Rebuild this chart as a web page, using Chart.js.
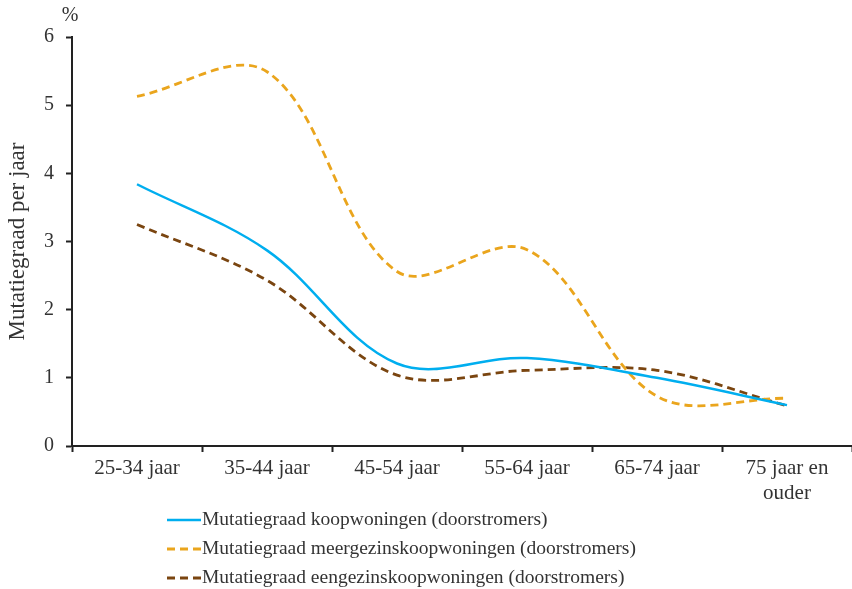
<!DOCTYPE html>
<html>
<head>
<meta charset="utf-8">
<script src="https://cdn.jsdelivr.net/npm/chart.js@4/dist/chart.umd.min.js"></script>
<style>
  html, body { margin: 0; padding: 0; background: #fff; }
  #wrap { width: 852px; height: 589px; position: relative; }
</style>
</head>
<body>
<div id="wrap"><canvas id="linechart"></canvas></div>
<script>
const categories = ['25-34 jaar', '35-44 jaar', '45-54 jaar', '55-64 jaar', '65-74 jaar', ['75 jaar en', 'ouder']];
const koopwoningen = [3.84, 2.87, 1.21, 1.29, 1.0, 0.60];
const meergezins = [5.13, 5.49, 2.56, 2.88, 0.73, 0.70];
const eengezins = [3.25, 2.43, 1.04, 1.11, 1.11, 0.59];
const yTicks = [0, 1, 2, 3, 4, 5, 6];

const seriesNames = [
  'Mutatiegraad koopwoningen (doorstromers)',
  'Mutatiegraad meergezinskoopwoningen (doorstromers)',
  'Mutatiegraad eengezinskoopwoningen (doorstromers)'
];

const FONT = 'Liberation Serif';
const TEXT = '#333333';

// legend + "%" label drawn by hand so rows line up left like the original
const extras = {
  id: 'extras',
  afterDraw(chart) {
    const c = chart.ctx;
    c.save();
    c.font = '20px "' + FONT + '"';
    c.fillStyle = TEXT;
    c.textBaseline = 'middle';
    c.textAlign = 'center';
    c.fillText('%', 70, 16);
    c.font = '19.5px "' + FONT + '"';
    c.textAlign = 'left';
    const rows = [520, 549, 578];
    chart.data.datasets.forEach(function (ds, i) {
      const y = rows[i];
      c.beginPath();
      c.strokeStyle = ds.borderColor;
      c.lineWidth = ds.borderWidth;
      c.setLineDash(ds.borderDash || []);
      c.moveTo(167, y);
      c.lineTo(201, y);
      c.stroke();
      c.setLineDash([]);
      c.fillText(ds.label, 202, y);
    });
    c.restore();
  }
};

const ctx = document.getElementById('linechart');
new Chart(ctx, {
  type: 'line',
  data: {
    labels: categories,
    datasets: [{
      label: seriesNames[0],
      data: koopwoningen,
      borderColor: '#00AEEF',
      borderWidth: 2.5,
      pointRadius: 0,
      tension: 0.35
    }, {
      label: seriesNames[1],
      data: meergezins,
      borderColor: '#EAA51D',
      borderWidth: 2.8,
      borderDash: [8, 5],
      pointRadius: 0,
      tension: 0.35
    }, {
      label: seriesNames[2],
      data: eengezins,
      borderColor: '#7A4510',
      borderWidth: 2.8,
      borderDash: [8, 5],
      pointRadius: 0,
      tension: 0.35
    }]
  },
  options: {
    responsive: true,
    maintainAspectRatio: false,
    animation: false,
    layout: { padding: { top: 37, right: 0, left: 0, bottom: 0 } },
    plugins: {
      legend: { display: false },
      tooltip: { enabled: false }
    },
    scales: {
      x: {
        offset: true,
        afterFit: function (s) { s.height = 143; },
        border: { color: '#222', width: 2 },
        grid: {
          offset: true,
          drawOnChartArea: false,
          tickLength: 6,
          tickColor: '#222',
          tickWidth: 2
        },
        ticks: {
          color: TEXT,
          font: { family: FONT, size: 21 },
          padding: 4,
          maxRotation: 0,
          autoSkip: false
        }
      },
      y: {
        min: 0,
        max: 6,
        afterFit: function (s) { s.width = 72; },
        afterBuildTicks: function (s) { s.ticks = yTicks.map(function (v) { return { value: v }; }); },
        border: { color: '#222', width: 2 },
        grid: {
          drawOnChartArea: false,
          tickLength: 6,
          tickColor: '#222',
          tickWidth: 2
        },
        ticks: {
          color: TEXT,
          font: { family: FONT, size: 20 },
          padding: 12
        },
        title: {
          display: true,
          text: 'Mutatiegraad per jaar',
          color: TEXT,
          font: { family: FONT, size: 23 },
          padding: { top: 4, bottom: 0 }
        }
      }
    }
  },
  plugins: [extras]
});
</script>
</body>
</html>
